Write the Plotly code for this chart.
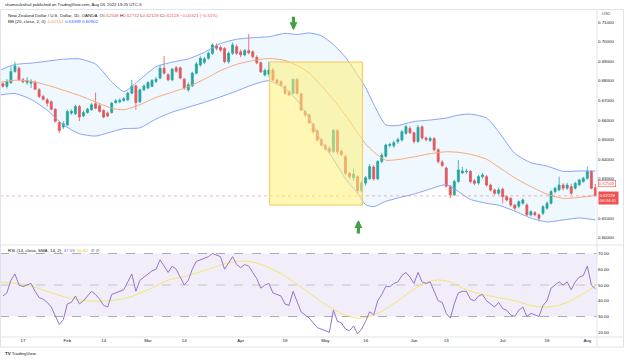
import numpy as np
import pandas as pd
import plotly.graph_objects as go

# ---------------- data ----------------
dates = pd.bdate_range("2022-01-10", "2022-08-03")   # trading days, Jan 10 .. Aug 3

opens = [
 .6785, .6772, .6790, .6847, .6864, .6805, .6791, .6788, .6791, .6754,
 .6720, .6703, .6693, .6655, .6587, .6564, .6575, .6635, .6632, .6669,
 .6621, .6638, .6652, .6683, .6673, .6649, .6635, .6638, .6689, .6693,
 .6700, .6703, .6737, .6774, .6693, .6754, .6763, .6771, .6797, .6814,
 .6864, .6831, .6805, .6866, .6866, .6808, .6754, .6774, .6839, .6881,
 .6895, .6915, .6940, .6978, .6970, .6965, .6898, .6940, .6974, .6948,
 .6932, .6954, .6948, .6920, .6892, .6830, .6835, .6855, .6804, .6795,
 .6770, .6745, .6736, .6807, .6733, .6643, .6626, .6580, .6545, .6500,
 .6470, .6455, .6440, .6546, .6440, .6413, .6328, .6305, .6310, .6240,
 .6278, .6300, .6360, .6300, .6388, .6415, .6470, .6468, .6490, .6498,
 .6532, .6557, .6535, .6490, .6565, .6508, .6496, .6505, .6448, .6385,
 .6355, .6262, .6218, .6286, .6330, .6335, .6338, .6290, .6278, .6311,
 .6311, .6268, .6243, .6226, .6247, .6209, .6200, .6166, .6160, .6175,
 .6166, .6116, .6127, .6116, .6124, .6150, .6175, .6235, .6243, .6268,
 .6252, .6260, .6252, .6270, .6286, .6303, .6337, .62548]
highs = [
 .6792, .6808, .6873, .6897, .6873, .6815, .6819, .6808, .6802, .6763,
 .6729, .6712, .6700, .6660, .6594, .6594, .6652, .6655, .6678, .6676,
 .6649, .6662, .6686, .6740, .6683, .6655, .6644, .6693, .6706, .6710,
 .6717, .6744, .6805, .6780, .6760, .6781, .6798, .6808, .6819, .6882,
 .6927, .6839, .6866, .6876, .6873, .6815, .6791, .6846, .6897, .6925,
 .6922, .6948, .6990, .6990, .6980, .6972, .6950, .6995, .6985, .6960,
 .6962, .7039, .6955, .6930, .6898, .6862, .6898, .6865, .6812, .6803,
 .6778, .6750, .6812, .6815, .6738, .6650, .6632, .6585, .6552, .6508,
 .6478, .6465, .6555, .6552, .6450, .6420, .6335, .6353, .6318, .6290,
 .6315, .6375, .6370, .6395, .6432, .6480, .6485, .6495, .6510, .6548,
 .6575, .6568, .6540, .6575, .6572, .6515, .6515, .6512, .6455, .6395,
 .6362, .6268, .6295, .6396, .6360, .6352, .6345, .6298, .6320, .6330,
 .6320, .6275, .6250, .6255, .6255, .6215, .6205, .6172, .6190, .6200,
 .6175, .6140, .6135, .6122, .6165, .6185, .6242, .6260, .6311, .6278,
 .6280, .6275, .6285, .6300, .6310, .6362, .6345, .62732]
lows = [
 .6765, .6760, .6785, .6842, .6802, .6788, .6780, .6763, .6754, .6712,
 .6700, .6669, .6649, .6587, .6533, .6553, .6570, .6627, .6625, .6594,
 .6615, .6632, .6647, .6655, .6638, .6608, .6615, .6632, .6683, .6686,
 .6693, .6696, .6732, .6652, .6686, .6747, .6757, .6768, .6788, .6808,
 .6832, .6798, .6798, .6842, .6808, .6754, .6744, .6768, .6832, .6872,
 .6885, .6908, .6932, .6955, .6948, .6890, .6888, .6932, .6932, .6920,
 .6925, .6935, .6915, .6885, .6840, .6822, .6821, .6798, .6782, .6770,
 .6730, .6722, .6730, .6730, .6645, .6615, .6580, .6530, .6490, .6465,
 .6445, .6430, .6432, .6425, .6415, .6320, .6300, .6290, .6225, .6232,
 .6265, .6295, .6290, .6292, .6380, .6408, .6460, .6458, .6478, .6490,
 .6525, .6528, .6480, .6485, .6500, .6490, .6488, .6440, .6378, .6360,
 .6255, .6200, .6212, .6280, .6325, .6325, .6278, .6268, .6270, .6302,
 .6260, .6235, .6218, .6218, .6175, .6185, .6158, .6140, .6150, .6168,
 .6108, .6108, .6108, .6082, .6115, .6142, .6168, .6225, .6238, .6240,
 .6245, .6218, .6245, .6262, .6280, .6295, .6245, .62128]
closes = [
 .6772, .6797, .6847, .6876, .6805, .6795, .6802, .6797, .6757, .6720,
 .6706, .6686, .6655, .6593, .6547, .6581, .6644, .6645, .6669, .6615,
 .6638, .6655, .6678, .6660, .6644, .6615, .6621, .6686, .6698, .6701,
 .6708, .6737, .6774, .6689, .6754, .6774, .6791, .6802, .6808, .6864,
 .6839, .6805, .6859, .6849, .6814, .6763, .6780, .6839, .6886, .6915,
 .6912, .6940, .6983, .6966, .6957, .6898, .6940, .6983, .6940, .6932,
 .6954, .6943, .6923, .6892, .6846, .6852, .6855, .6804, .6790, .6779,
 .6736, .6728, .6807, .6736, .6651, .6626, .6585, .6541, .6498, .6472,
 .6452, .6440, .6546, .6438, .6425, .6328, .6311, .6325, .6240, .6278,
 .6305, .6362, .6300, .6388, .6421, .6472, .6475, .6485, .6500, .6540,
 .6566, .6535, .6490, .6562, .6508, .6500, .6505, .6448, .6388, .6368,
 .6262, .6218, .6286, .6345, .6340, .6338, .6286, .6277, .6311, .6320,
 .6268, .6243, .6226, .6243, .6209, .6192, .6166, .6150, .6183, .6192,
 .6116, .6132, .6116, .6099, .6158, .6175, .6235, .6252, .6268, .6252,
 .6268, .6226, .6277, .6294, .6303, .6337, .6252, .62128]

# Bollinger Bands (20, 2) read at sample positions (trading-day index, Jan 11 = 0)
bb_x = [-1.7, 2, 6, 10, 14, 18, 22, 26, 29, 33, 37, 41, 45, 49, 53, 57, 61, 65, 69, 72,
        75, 78, 81, 84, 87, 89, 91, 94, 97, 101, 105, 109, 112, 115, 119, 122, 126, 130,
        134, 138, 142, 146]
bb_upper = [.6855, .6883, .6890, .6900, .6910, .6912, .6885, .6795, .6745, .6806, .6872,
            .6895, .6912, .6945, .6990, .7012, .7020, .7025, .7042, .7036, .7044, .7030,
            .6985, .6920, .6830, .6765, .6680, .6575, .6572, .6592, .6600, .6610, .6625,
            .6630, .6610, .6540, .6430, .6382, .6365, .6338, .6340, .63399]
bb_basis = [.6792, .6803, .6798, .6778, .6752, .6725, .6692, .6660, .6652, .6678, .6715,
            .6742, .6770, .6808, .6852, .6884, .6903, .6914, .6904, .6878, .6840, .6775,
            .6705, .6625, .6535, .6478, .6437, .6395, .6398, .6412, .6428, .6438, .6435,
            .6425, .6400, .6360, .6305, .6260, .6222, .6200, .6205, .62151]
bb_lower = [.6728, .6735, .6705, .6650, .6575, .6530, .6518, .6540, .6556, .6560, .6605,
            .6640, .6665, .6690, .6718, .6748, .6780, .6800, .6760, .6700, .6610, .6490,
            .6400, .6300, .6225, .6168, .6158, .6185, .6202, .6222, .6248, .6270, .6235,
            .6195, .6175, .6165, .6135, .6100, .6080, .6090, .6100, .60902]

# RSI (14) per candle and its SMA(14) at sample positions
rsi = [43, 45, 53, 57, 50, 49, 50, 51, 46, 42,
       41, 39, 36, 30, 25, 28, 38, 39, 43, 38,
       40, 43, 46, 44, 41, 37, 36, 44, 45, 46,
       47, 52, 57, 46, 53, 55, 57, 59, 60, 66,
       62, 58, 62, 60, 55, 50, 53, 60, 65, 66,
       67, 68, 70, 69, 68, 60, 64, 68, 63, 61,
       63, 62, 58, 54, 48, 50, 51, 45, 44, 43,
       38, 37, 46, 39, 33, 31, 29, 26, 23, 22,
       21, 20, 34, 27, 26, 22, 21, 24, 19, 22,
       27, 33, 31, 40, 44, 49, 49, 51, 52, 56,
       58, 55, 51, 58, 52, 51, 52, 46, 40, 39,
       32, 29, 38, 45, 46, 46, 41, 40, 43, 44,
       40, 38, 36, 39, 35, 34, 31, 30, 34, 36,
       30, 32, 31, 30, 37, 40, 48, 50, 52, 50,
       52, 47, 52, 55, 56, 62, 50, 47.59]
rsi_ma_x = [-1.7, 5, 10, 15, 20, 25, 30, 35, 40, 45, 50, 55, 60, 65, 70, 75, 80, 85, 88,
            92, 97, 102, 106, 110, 114, 118, 122, 126, 130, 134, 138, 142, 146]
rsi_ma = [52, 50, 46, 42, 40, 40, 42, 47, 53, 56, 60, 64, 65, 61, 54, 45, 36, 30, 29,
          32, 40, 49, 53, 52, 47, 44, 42, 40, 37, 36, 38, 43, 49.5]
rsi_levels = [70, 50, 30]

# axis ticks (0.62000 is hidden behind the price tags in the picture)
price_ticks = [0.60, 0.61, 0.63, 0.64, 0.65, 0.66, 0.67, 0.68, 0.69, 0.70, 0.71]
rsi_ticks = [20, 30, 40, 50, 60, 70]
tick_dates = ["2022-01-17", "2022-02-01", "2022-02-14", "2022-03-01", "2022-03-14",
              "2022-04-01", "2022-04-18", "2022-05-02", "2022-05-16", "2022-06-01",
              "2022-06-13", "2022-07-01", "2022-07-18", "2022-08-01"]
tick_text = ["17", "Feb", "14", "Mar", "14", "Apr", "18", "May", "16", "Jun", "13", "Jul",
             "18", "Aug"]

# drawing (rectangle corners and arrow targets, in chart coordinates)
box_dates = ("2022-04-12", "2022-05-13")
box_prices = (0.6166, 0.6896)
arrow_down = ("2022-04-20", 0.7058)
arrow_up = ("2022-05-12", 0.6090)

# ---------------- figure ----------------
W, H = 624, 360
xpos = np.arange(len(dates)) - 1          # Jan 11 -> 0
pos_of = {d: p for d, p in zip(dates, xpos)}
def px(d):
    return pos_of[pd.Timestamp(d)]

GREEN, RED = "#26a69a", "#ef5350"
FONT = "Liberation Sans"
TXT = "#131722"
GRID = "#e0e3eb"

PLOT_R = 597 / W
def py(pix):
    return 1 - pix / H

fig = go.Figure()

# Bollinger bands
fig.add_trace(go.Scatter(x=bb_x, y=bb_upper, mode="lines", xaxis="x2", yaxis="y",
                         line=dict(color="#86a2f6", width=1, shape="spline", smoothing=0.6),
                         hoverinfo="skip", showlegend=False))
fig.add_trace(go.Scatter(x=bb_x, y=bb_lower, mode="lines", xaxis="x2", yaxis="y",
                         line=dict(color="#86a2f6", width=1, shape="spline", smoothing=0.6),
                         fill="tonexty", fillcolor="rgba(33,150,243,0.07)",
                         hoverinfo="skip", showlegend=False))
fig.add_trace(go.Scatter(x=bb_x, y=bb_basis, mode="lines", xaxis="x2", yaxis="y",
                         line=dict(color="#f6a877", width=1, shape="spline", smoothing=0.6),
                         hoverinfo="skip", showlegend=False))

# candles
fig.add_trace(go.Candlestick(
    x=xpos, open=opens, high=highs, low=lows, close=closes, xaxis="x2", yaxis="y",
    increasing=dict(line=dict(color=GREEN, width=0.8), fillcolor=GREEN),
    decreasing=dict(line=dict(color=RED, width=0.8), fillcolor=RED),
    whiskerwidth=0, showlegend=False))

# RSI
fig.add_trace(go.Scatter(x=rsi_ma_x, y=rsi_ma, mode="lines", xaxis="x", yaxis="y2",
                         line=dict(color="#f5e66e", width=1, shape="spline"),
                         hoverinfo="skip", showlegend=False))
fig.add_trace(go.Scatter(x=xpos, y=rsi, mode="lines", xaxis="x", yaxis="y2",
                         line=dict(color="#9575cd", width=1),
                         hoverinfo="skip", showlegend=False))

shapes = []
# RSI band
shapes.append(dict(type="rect", xref="paper", yref="y2", x0=0, x1=PLOT_R,
                   y0=rsi_levels[2], y1=rsi_levels[0], fillcolor="rgba(126,87,194,0.10)",
                   line=dict(width=0), layer="below"))
for lv in rsi_levels:
    shapes.append(dict(type="line", xref="paper", yref="y2", x0=0, x1=PLOT_R, y0=lv, y1=lv,
                       line=dict(color="#9598a1" if lv != 50 else "#b8bac1", width=0.8,
                                 dash="dash"), layer="below"))
# current price line
shapes.append(dict(type="line", xref="paper", yref="y", x0=0, x1=PLOT_R,
                   y0=closes[-1], y1=closes[-1],
                   line=dict(color="rgba(239,83,80,0.55)", width=0.8, dash="dot")))
# yellow rectangle drawing
shapes.append(dict(type="rect", xref="x2", yref="y",
                   x0=px(box_dates[0]) + 0.2, x1=px(box_dates[1]) + 0.2,
                   y0=box_prices[0], y1=box_prices[1],
                   fillcolor="rgba(255,241,118,0.55)", line=dict(color="#f7c75a", width=1),
                   layer="above"))
# frame lines
for ypix in (9.5, 245, 337, 347):
    shapes.append(dict(type="line", xref="paper", yref="paper", x0=0, x1=1,
                       y0=py(ypix), y1=py(ypix), line=dict(color=GRID, width=1)))
shapes.append(dict(type="line", xref="paper", yref="paper", x0=PLOT_R, x1=PLOT_R,
                   y0=py(347), y1=py(9.5), line=dict(color=GRID, width=1)))
shapes.append(dict(type="line", xref="paper", yref="paper", x0=0.5 / W, x1=0.5 / W,
                   y0=py(347), y1=py(9.5), line=dict(color=GRID, width=1)))
shapes.append(dict(type="line", xref="paper", yref="paper", x0=1 - 0.5 / W, x1=1 - 0.5 / W,
                   y0=py(347), y1=py(9.5), line=dict(color=GRID, width=1)))

ann = []
def label(xpix, ypix, text, size=4.4, color=TXT, anchor="left"):
    ann.append(dict(xref="paper", yref="paper", x=xpix / W, y=py(ypix), text=text,
                    showarrow=False, xanchor=anchor, yanchor="middle",
                    font=dict(family=FONT, size=size, color=color)))

label(3, 5, "shamsulzohail published on TradingView.com, Aug 03, 2022 19:25 UTC-5", 4.2)
red = lambda s: f"<span style='color:{RED}'>{s}</span>"
label(6, 15.5, "New Zealand Dollar / U.S. Dollar, 1D, OANDA  "
      f"O{red('0.62548')} H{red('0.62732')} L{red('0.62128')} C{red('0.62128')} "
      f"{red('−0.00321 (−0.51%)')}", 4.4)
label(6, 21, "BB (20, close, 2, 0)  <span style='color:#ff8f3f'>0.62151</span> "
      "<span style='color:#2962ff'>0.63399</span> <span style='color:#2962ff'>0.60902</span>",
      4.4)
label(6, 250, "RSI (14, close, SMA, 14, 2)  <span style='color:#7e57c2'>47.59</span>  "
      "<span style='color:#e6c800'>50.82</span>  ∅  ∅", 4.4)
label(600, 14, "USD", 4.0, "#50535e")
label(3, 353, "<b>TV</b> TradingView", 4.4)

# price tags on the axis
ann.append(dict(xref="paper", yref="y", x=598 / W, y=opens[-1], yshift=4,
                text="0.62548", showarrow=False, xanchor="left", yanchor="middle",
                font=dict(family=FONT, size=4.2, color=RED), bgcolor="white",
                bordercolor=RED, borderwidth=0.6, borderpad=0.5))
ann.append(dict(xref="paper", yref="y", x=598 / W, y=closes[-1], yshift=-2,
                text="0.62128<br>06:34:41", showarrow=False, xanchor="left", yanchor="middle",
                font=dict(family=FONT, size=4.2, color="white"), bgcolor=RED,
                borderpad=0.8, align="left"))

# green arrows
ann.append(dict(xref="x2", yref="y", x=px(arrow_down[0]) + 0.1, y=arrow_down[1], ax=0, ay=-15,
                showarrow=True, arrowhead=2, arrowsize=0.5, arrowwidth=3.2,
                arrowcolor="#43a047", text=""))
ann.append(dict(xref="x2", yref="y", x=px(arrow_up[0]) + 0.2, y=arrow_up[1], ax=0, ay=15,
                showarrow=True, arrowhead=2, arrowsize=0.5, arrowwidth=3.2,
                arrowcolor="#43a047", text=""))

xrange = [-1.71, 146.4]
fig.update_layout(
    width=W, height=H, margin=dict(l=0, r=0, t=0, b=0),
    paper_bgcolor="white", plot_bgcolor="white", showlegend=False,
    font=dict(family=FONT, size=4.4, color=TXT),
    xaxis=dict(domain=[0, PLOT_R], range=xrange, anchor="y2",
               tickvals=[px(d) for d in tick_dates], ticktext=tick_text,
               showgrid=False, zeroline=False, showline=False, ticks="",
               tickfont=dict(size=4.4, color=TXT), rangeslider=dict(visible=False)),
    xaxis2=dict(domain=[0, PLOT_R], range=xrange, anchor="y", matches="x",
                showticklabels=False, showgrid=False, zeroline=False, ticks="",
                rangeslider=dict(visible=False)),
    yaxis=dict(domain=[py(245), py(9.5)], range=[0.596224, 0.716378], side="right",
               anchor="x2", tickvals=price_ticks, ticktext=[f"{v:.5f}" for v in price_ticks],
               showgrid=False, zeroline=False, ticks="", tickfont=dict(size=4.4, color=TXT)),
    yaxis2=dict(domain=[py(337), py(245)], range=[17.0, 75.4], side="right", anchor="x",
                tickvals=rsi_ticks, ticktext=[f"{v:.2f}" for v in rsi_ticks],
                showgrid=False, zeroline=False, ticks="", tickfont=dict(size=4.4, color=TXT)),
    shapes=shapes, annotations=ann,
)

fig.write_html("out.html", config={"displayModeBar": False},
               post_script="document.body.style.margin='0px';"
                           "document.body.style.overflow='hidden';")
